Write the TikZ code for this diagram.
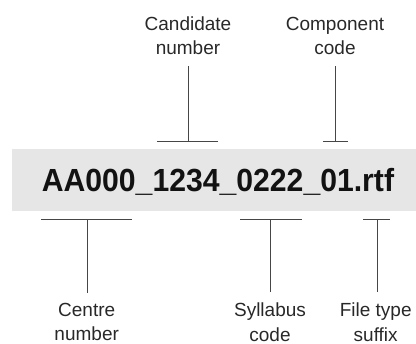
\documentclass[tikz,border=0pt]{standalone}
\usepackage{fontspec}
\setmainfont{Liberation Sans}
\definecolor{band}{RGB}{230,230,230}
\definecolor{ink}{RGB}{40,40,40}
\definecolor{rule}{RGB}{70,70,70}
\begin{document}
\begin{tikzpicture}[x=1pt,y=-1pt,
  lbl/.style={align=center,inner sep=0pt,text=ink,font=\fontsize{19}{24.5}\selectfont},
  conn/.style={draw=rule,line width=1pt},
  tick/.style={draw=rule,line width=1pt}]
\useasboundingbox (0,0) rectangle (416,344);
\fill[band] (12,149.5) rectangle (416,211);
\node[inner sep=0pt,anchor=base,text=black!93,font=\fontsize{32}{36}\selectfont\bfseries] (fname) at (218,192) {\scalebox{0.943}[1]{AA000\_1234\_0222\_01.rtf}};
% top labels (base = baseline of last line)
\node[lbl,anchor=base] (cand) at (188,55) {Candidate\\number};
\node[lbl,anchor=base] (comp) at (335,55) {Component\\code};
\coordinate (candT) at (188,142);
\coordinate (compT) at (335,142);
\draw[conn] (candT |- cand.south) ++(0,11) -- (candT);
\draw[conn] (compT |- comp.south) ++(0,11) -- (compT);
\draw[tick] (157,142) -- (218,142);
\draw[tick] (323,142) -- (348,142);
% bottom labels
\node[lbl,anchor=base] (cent) at (86.7,340.8) {Centre\\number};
\node[lbl,anchor=base] (syll) at (270,341.3) {Syllabus\\code};
\node[lbl,anchor=base] (file) at (375.7,341.3) {File type\\suffix};
\coordinate (centT) at (87,220);
\coordinate (syllT) at (270,220);
\coordinate (fileT) at (377,220);
\draw[tick] (41,220) -- (132,220);
\draw[tick] (240,220) -- (302,220);
\draw[tick] (363,220) -- (390,220);
\draw[conn] (centT) -- ([yshift=10pt]centT |- cent.north);
\draw[conn] (syllT) -- ([yshift=11pt]syllT |- syll.north);
\draw[conn] (fileT) -- ([yshift=11pt]fileT |- file.north);
\end{tikzpicture}
\end{document}
